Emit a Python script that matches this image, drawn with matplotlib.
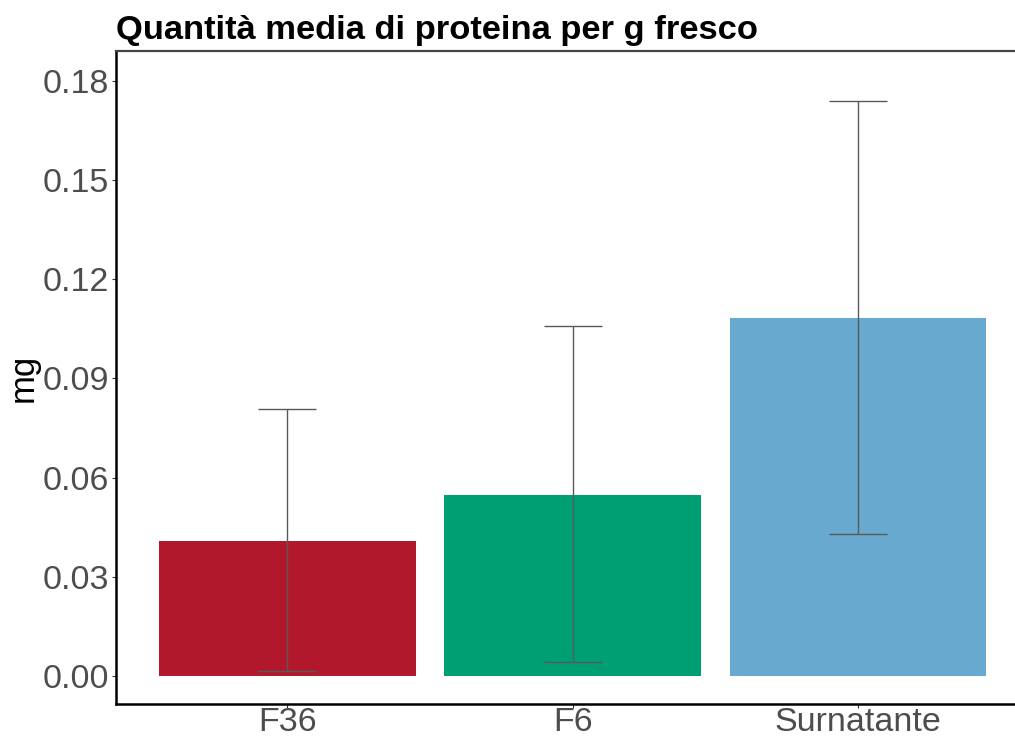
import matplotlib
matplotlib.use("Agg")
import matplotlib.pyplot as plt

# Mean protein amount per gram of fresh tissue, with error bar limits
categories = ["F36", "F6", "Surnatante"]
means = [0.0408, 0.0547, 0.1083]
err_low = [0.0015, 0.0042, 0.0429]
err_high = [0.0807, 0.1058, 0.1739]
colors = ["#B2182B", "#009E73", "#67A9CF"]
yticks = [0.00, 0.03, 0.06, 0.09, 0.12, 0.15, 0.18]
ytick_labels = ["0.00", "0.03", "0.06", "0.09", "0.12", "0.15", "0.18"]

plt.rcParams["font.family"] = ["Liberation Sans", "DejaVu Sans"]

fig = plt.figure(figsize=(10.15, 7.37), dpi=100)
ax = fig.add_axes([0.1143, 0.0448, 0.8857, 0.886])

x = list(range(len(categories)))
ax.bar(x, means, width=0.9, color=colors, zorder=1)

lower = [m - lo for m, lo in zip(means, err_low)]
upper = [hi - m for m, hi in zip(means, err_high)]
ax.errorbar(x, means, yerr=[lower, upper], fmt="none", ecolor="#595959",
            elinewidth=1.0, capsize=20.6, capthick=1.0, zorder=2)

ax.set_xlim(-0.6, 2.55)
ax.set_ylim(-0.0085, 0.189)
ax.set_xticks(x)
ax.set_xticklabels(categories)
ax.set_yticks(yticks)
ax.set_yticklabels(ytick_labels)

ax.tick_params(axis="both", colors="#333333", labelcolor="#4D4D4D",
               labelsize=24.5, length=3, width=0.8, pad=2)
ax.tick_params(axis="x", pad=-1)

for side in ["left", "bottom"]:
    ax.spines[side].set_linewidth(1.8)
    ax.spines[side].set_color("black")
ax.spines["top"].set_linewidth(1.6)
ax.spines["top"].set_color("#444444")
ax.spines["right"].set_visible(False)

ax.set_ylabel("mg", fontsize=25, color="black", labelpad=2)
ax.set_title("Quantità media di proteina per g fresco", fontsize=24.8,
             fontweight="bold", loc="left", x=0.0, pad=9, color="black")

fig.savefig("out.png", dpi=100, facecolor="white")
